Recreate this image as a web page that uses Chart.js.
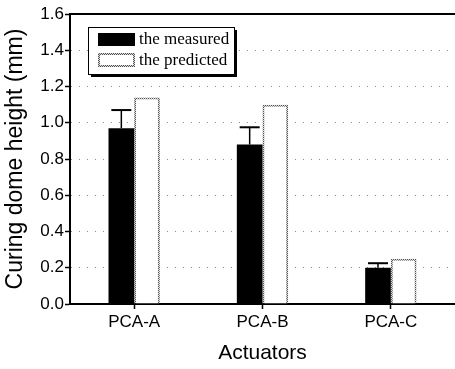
<!DOCTYPE html>
<html>
<head>
<meta charset="utf-8">
<script src="https://cdn.jsdelivr.net/npm/chart.js@4.4.0/dist/chart.umd.min.js"></script>
<style>
  html, body { margin: 0; padding: 0; background: #fff; }
  #wrap { width: 455px; height: 369px; }
</style>
</head>
<body>
<div id="wrap"><canvas id="chart" width="455" height="369"></canvas></div>
<script>
const categories = ["PCA-A", "PCA-B", "PCA-C"];
const measured = [0.97, 0.88, 0.2];
const measuredErr = [0.1, 0.095, 0.025];
const predicted = [1.14, 1.1, 0.25];
const legendLabels = ["the measured", "the predicted"];

// dotted grey pattern used for the outline of the predicted bars
const dotCanvas = document.createElement("canvas");
dotCanvas.width = 2;
dotCanvas.height = 2;
const dctx = dotCanvas.getContext("2d");
dctx.fillStyle = "#d8d8d8";
dctx.fillRect(0, 0, 2, 2);
dctx.fillStyle = "#555";
dctx.fillRect(0, 0, 1, 1);
dctx.fillRect(1, 1, 1, 1);
const dotPattern = dctx.createPattern(dotCanvas, "repeat");

//error bars on the measured series
const errorBars = {
  id: "errorBars",
  afterDatasetsDraw(chart) {
    const ctx = chart.ctx;
    const meta = chart.getDatasetMeta(0);
    const y = chart.scales.y;
    ctx.save();
    ctx.strokeStyle = "#000";
    meta.data.forEach((bar, i) => {
      const yTop = y.getPixelForValue(measured[i] + measuredErr[i]);
      ctx.lineWidth = 1.5;
      ctx.beginPath();
      ctx.moveTo(bar.x, bar.y);
      ctx.lineTo(bar.x, yTop);
      ctx.stroke();
      ctx.lineWidth = 2;
      ctx.beginPath();
      ctx.moveTo(bar.x - 10, yTop);
      ctx.lineTo(bar.x + 10, yTop);
      ctx.stroke();
    });
    ctx.restore();
  },
};

//top frame line and the boxed legend
const frameAndLegend = {
  id: "frameAndLegend",
  afterDraw(chart) {
    const ctx = chart.ctx;
    const a = chart.chartArea;
    ctx.save();
    ctx.strokeStyle = "#000";
    ctx.lineWidth = 2;
    ctx.beginPath();
    ctx.moveTo(a.left, a.top);
    ctx.lineTo(a.right, a.top);
    ctx.stroke();

    // legend box with shadow
    const bx = 88, by = 27, bw = 146, bh = 47;
    ctx.fillStyle = "#000";
    ctx.fillRect(bx + 3, by + 3, bw, bh);
    ctx.fillStyle = "#fff";
    ctx.fillRect(bx, by, bw, bh);
    ctx.lineWidth = 1;
    ctx.strokeRect(bx + 0.5, by + 0.5, bw, bh);

    ctx.fillStyle = "#000";
    ctx.fillRect(98, 33, 37, 13);
    ctx.fillStyle = dotPattern;
    ctx.fillRect(98, 53, 37, 14);
    ctx.fillStyle = "#fff";
    ctx.fillRect(100, 55, 33, 10);

    ctx.fillStyle = "#000";
    ctx.font = '17px "Liberation Serif", "Times New Roman", serif';
    ctx.textBaseline = "middle";
    ctx.fillText(legendLabels[0], 139, 40);
    ctx.fillText(legendLabels[1], 139, 61);
    ctx.restore();
  },
};

const sans = "'Liberation Sans', Arial, sans-serif";

new Chart(document.getElementById("chart"), {
  type: "bar",
  data: {
    labels: categories,
    datasets: [
      {
        label: legendLabels[0],
        data: measured,
        backgroundColor: "#000",
        borderWidth: 0,
      },
      {
        label: legendLabels[1],
        data: predicted,
        backgroundColor: "#fff",
        borderColor: dotPattern,
        borderWidth: 2,
      },
    ],
  },
  options: {
    responsive: false,
    animation: false,
    datasets: {
      bar: { categoryPercentage: 0.4, barPercentage: 1 },
    },
    layout: { padding: { top: 14, right: 0, left: 0, bottom: 0 } },
    plugins: {
      legend: { display: false },
      tooltip: { enabled: false },
    },
    scales: {
      x: {
        afterFit(scale) {
          scale.height = 65;
        },
        grid: {
          offset: false,
          drawOnChartArea: false,
          tickLength: 5,
          tickColor: "#000",
          tickWidth: 1.5,
        },
        border: { color: "#000", width: 2 },
        ticks: { color: "#000", font: { family: sans, size: 17 }, padding: 3 },
        title: {
          display: true,
          text: "Actuators",
          color: "#000",
          font: { family: sans, size: 21 },
          padding: { top: 0, bottom: 3 },
        },
      },
      y: {
        min: 0,
        max: 1.6,
        afterFit(scale) {
          scale.width = 70;
        },
        grid: {
          color: (c) =>
            c.index === 0 || c.index === 16 ? "rgba(0,0,0,0)" : "rgba(0,0,0,0.45)",
          lineWidth: 1,
          tickLength: 5,
          tickColor: "#000",
          tickWidth: 1.5,
        },
        border: { color: "#000", width: 2, dash: [1, 7] },
        ticks: {
          stepSize: 0.1,
          color: "#000",
          padding: 1,
          font: { family: sans, size: 17 },
          callback: (v, i) => (i % 2 === 0 ? Number(v).toFixed(1) : ""),
        },
        title: {
          display: true,
          text: "Curing dome height (mm)",
          color: "#000",
          font: { family: sans, size: 23 },
          padding: { top: 2, bottom: 0 },
        },
      },
    },
  },
  plugins: [errorBars, frameAndLegend],
});
</script>
</body>
</html>
